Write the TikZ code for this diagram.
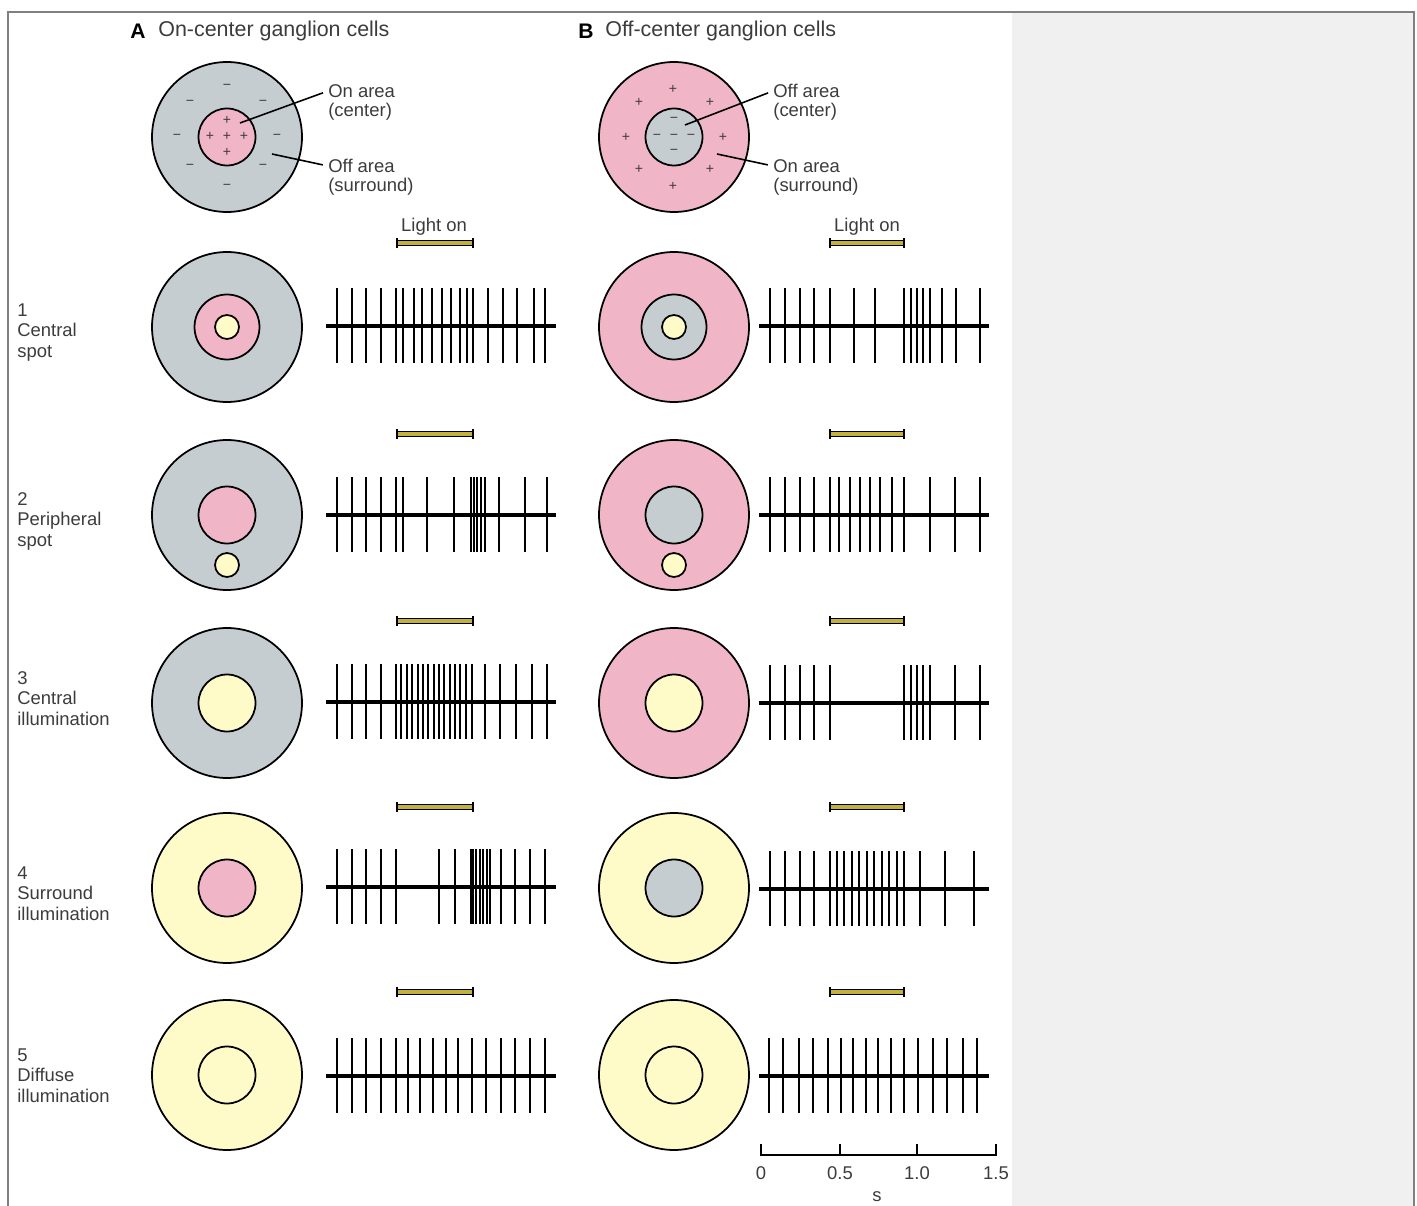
\documentclass[tikz,border=0pt]{standalone}
\usepackage{fontspec}
\setmainfont{Liberation Sans}
\usetikzlibrary{positioning}
\definecolor{offgray}{RGB}{197,205,209}
\definecolor{onpink}{RGB}{241,181,200}
\definecolor{lightyel}{RGB}{255,251,200}
\definecolor{barcol}{RGB}{196,176,62}
\definecolor{panelgray}{RGB}{240,240,240}
\definecolor{txtgray}{RGB}{60,60,60}
\tikzset{field/.style = {shape = circle, draw, line width = 1pt, minimum size = 3cm, inner sep = 0}}
\tikzset{cpatch/.style = {shape = circle, draw, line width = 1pt, minimum size = 1.14cm, inner sep = 0}}
\tikzset{bigpatch/.style = {cpatch, minimum size = 1.3cm}}
\tikzset{lspot/.style = {shape = circle, draw, line width = 1pt, fill = lightyel, minimum size = 0.48cm, inner sep = 0}}
\tikzset{spike/.style = {line width = 1.4pt}}
\tikzset{trace/.style = {line width = 1.8pt}}
\tikzset{lightbar/.style = {draw, fill = barcol, line width = 0.6pt}}
\tikzset{barcap/.style = {line width = 1.4pt}}
\tikzset{lbl/.style = {text = txtgray, font = \fontsize{10.5}{11.8}\selectfont, inner sep = 0}}
\tikzset{sign/.style = {text = txtgray, font = \fontsize{8}{8}\selectfont, inner sep = 0}}
\tikzset{pointer/.style = {-, line width = 0.9pt, shorten > = 3pt}}

\begin{document}
\begin{tikzpicture}[x = 0.02cm, y = -0.02cm]
	\useasboundingbox (0, 0) rectangle (1417, 1206);
	\fill[panelgray] (1012, 12) rectangle (1414, 1206);
	\draw[gray, line width = 0.8pt] (8, 1206) -- (8, 12) -- (1414, 12) -- (1414, 1206);

	% headings
	\node[anchor = west, inner sep = 0, font = \fontsize{12}{12}\selectfont\bfseries] (hA) at (130, 31) {A};
	\node[lbl, anchor = west, font = \fontsize{12.2}{13}\selectfont] (tA) at (158, 31) {On-center ganglion cells};
	\node[anchor = west, inner sep = 0, font = \fontsize{12}{12}\selectfont\bfseries] (hB) at (578, 31) {B};
	\node[lbl, anchor = west, font = \fontsize{12.2}{13}\selectfont] (tB) at (605, 31) {Off-center ganglion cells};

	% receptive fields
	\node[field, fill = offgray] (fA0) at (227, 137) {};
	\node[cpatch, fill = onpink] (cA0) at (227, 137) {};
	\node[field, fill = onpink] (fB0) at (674, 137) {};
	\node[cpatch, fill = offgray] (cB0) at (674, 137) {};

	\foreach \dx/\dy [count = \i] in {0/-50, -37/-34, 36/-34, -50/0, 50/0, -37/30, 36/30, 0/50}
		\node[sign] (mA\i) at (227+\dx, 137+\dy) {−};
	\foreach \dx/\dy [count = \i] in {0/-17, -17/-1, 0/-1, 17/-1, 0/15}
		\node[sign] (pA\i) at (227+\dx, 137+\dy) {+};
	\foreach \dx/\dy [count = \i] in {-1/-48, -35/-35, 36/-35, -48/0, 49/0, -35/32, 36/32, -1/49}
		\node[sign] (pB\i) at (674+\dx, 137+\dy) {+};
	\foreach \dx/\dy [count = \i] in {0/-17, -17/0, 0/0, 17/0, 0/15}
		\node[sign] (mB\i) at (674+\dx, 137+\dy) {−};

	\coordinate (ptA1) at (240, 123);
	\coordinate (ptA2) at (272, 154);
	\coordinate (ptB1) at (685, 125);
	\coordinate (ptB2) at (717, 154);
	\node[lbl, anchor = west] (onA) at (328, 91) {On area};
	\node[lbl, anchor = west] (onAc) at (328, 112) {(center)};
	\node[lbl, anchor = west] (offA) at (328, 166) {Off area};
	\node[lbl, anchor = west] (offAs) at (328, 187) {(surround)};
	\node[lbl, anchor = west] (offB) at (773, 91) {Off area};
	\node[lbl, anchor = west] (offBc) at (773, 112) {(center)};
	\node[lbl, anchor = west] (onB) at (773, 166) {On area};
	\node[lbl, anchor = west] (onBs) at (773, 187) {(surround)};
	\draw[pointer] (ptA1) -- (onA.west);
	\draw[pointer] (ptA2) -- (offA.west);
	\draw[pointer] (ptB1) -- (offB.west);
	\draw[pointer] (ptB2) -- (onB.west);

	% row labels
	\node[lbl, align = left, anchor = north west] (r1) at (17, 303) {1\\Central\\spot};
	\node[lbl, align = left, anchor = north west] (r2) at (17, 492) {2\\Peripheral\\spot};
	\node[lbl, align = left, anchor = north west] (r3) at (17, 671) {3\\Central\\illumination};
	\node[lbl, align = left, anchor = north west] (r4) at (17, 866) {4\\Surround\\illumination};
	\node[lbl, align = left, anchor = north west] (r5) at (17, 1048) {5\\Diffuse\\illumination};

	% stimuli
	\node[field, fill = offgray] (fA1) at (227, 327) {};
	\node[bigpatch, fill = onpink] (cA1) at (227, 327) {};
	\node[lspot] (sA1) at (227, 327) {};
	\node[field, fill = onpink] (fB1) at (674, 327) {};
	\node[bigpatch, fill = offgray] (cB1) at (674, 327) {};
	\node[lspot] (sB1) at (674, 327) {};

	\node[field, fill = offgray] (fA2) at (227, 515) {};
	\node[cpatch, fill = onpink] (cA2) at (227, 515) {};
	\node[lspot] (sA2) at (227, 565) {};
	\node[field, fill = onpink] (fB2) at (674, 515) {};
	\node[cpatch, fill = offgray] (cB2) at (674, 515) {};
	\node[lspot] (sB2) at (674, 565) {};

	\node[field, fill = offgray] (fA3) at (227, 703) {};
	\node[cpatch, fill = lightyel] (cA3) at (227, 703) {};
	\node[field, fill = onpink] (fB3) at (674, 703) {};
	\node[cpatch, fill = lightyel] (cB3) at (674, 703) {};

	\node[field, fill = lightyel] (fA4) at (227, 888) {};
	\node[cpatch, fill = onpink] (cA4) at (227, 888) {};
	\node[field, fill = lightyel] (fB4) at (674, 888) {};
	\node[cpatch, fill = offgray] (cB4) at (674, 888) {};

	\node[field, fill = lightyel] (fA5) at (227, 1075) {};
	\node[cpatch, fill = lightyel] (cA5) at (227, 1075) {};
	\node[field, fill = lightyel] (fB5) at (674, 1075) {};
	\node[cpatch, fill = lightyel] (cB5) at (674, 1075) {};

	% light on bars
	\node[lbl] (lightA) at (434, 227) {Light on};
	\node[lbl] (lightB) at (867, 227) {Light on};
	\foreach \yb in {243, 434, 621, 807, 992} {
		\draw[lightbar] (397, \yb-2.5) rectangle (473, \yb+2.5);
		\draw[barcap] (397, \yb-5) -- (397, \yb+5);
		\draw[barcap] (473, \yb-5) -- (473, \yb+5);
		\draw[lightbar] (830, \yb-2.5) rectangle (904, \yb+2.5);
		\draw[barcap] (830, \yb-5) -- (830, \yb+5);
		\draw[barcap] (904, \yb-5) -- (904, \yb+5);
	}

	% spike trains
	\foreach \yy/\xs in {
		326/{337,352,366,381,396,403,414,422,432,442,451,460,467,473,488,503,517,534,545},
		515/{337,352,366,381,396,403,427,454,471,474,477,481,485,499,525,547},
		702/{337,352,366,381,396,401,407,412,418,423,428,434,439,444,450,455,460,466,472,485,500,516,532,547},
		887/{337,352,366,381,396,439,455,471,473,476,480,483,487,490,501,515,530,545},
		1076/{337,352,366,381,396,408,420,433,446,458,472,486,501,515,530,545}} {
		\draw[trace] (326, \yy) -- (556, \yy);
		\foreach \x in \xs
			\draw[spike] (\x, \yy-38) -- (\x, \yy+37);
	}
	\foreach \yy/\xs in {
		326/{770,785,800,814,830,854,875,904,911,917,923,930,942,956,980},
		515/{770,785,800,814,830,839,850,860,870,880,892,904,930,955,980},
		703/{770,785,800,814,830,904,911,917,923,930,955,980},
		889/{770,785,800,814,830,837,844,852,859,867,874,882,889,897,904,920,945,974},
		1076/{769,783,799,813,828,841,853,866,878,891,904,918,933,947,963,977}} {
		\draw[trace] (759, \yy) -- (989, \yy);
		\foreach \x in \xs
			\draw[spike] (\x, \yy-38) -- (\x, \yy+37);
	}

	% time scale
	\draw[line width = 0.9pt] (761, 1144) -- (761, 1155) -- (996, 1155) -- (996, 1144);
	\draw[line width = 0.9pt] (840, 1155) -- (840, 1144);
	\draw[line width = 0.9pt] (917, 1155) -- (917, 1144);
	\node[lbl] (s0) at (761, 1173) {0};
	\node[lbl] (s1) at (840, 1173) {0.5};
	\node[lbl] (s2) at (917, 1173) {1.0};
	\node[lbl] (s3) at (996, 1173) {1.5};
	\node[lbl] (sunit) at (877, 1197) {s};
\end{tikzpicture}
\end{document}
